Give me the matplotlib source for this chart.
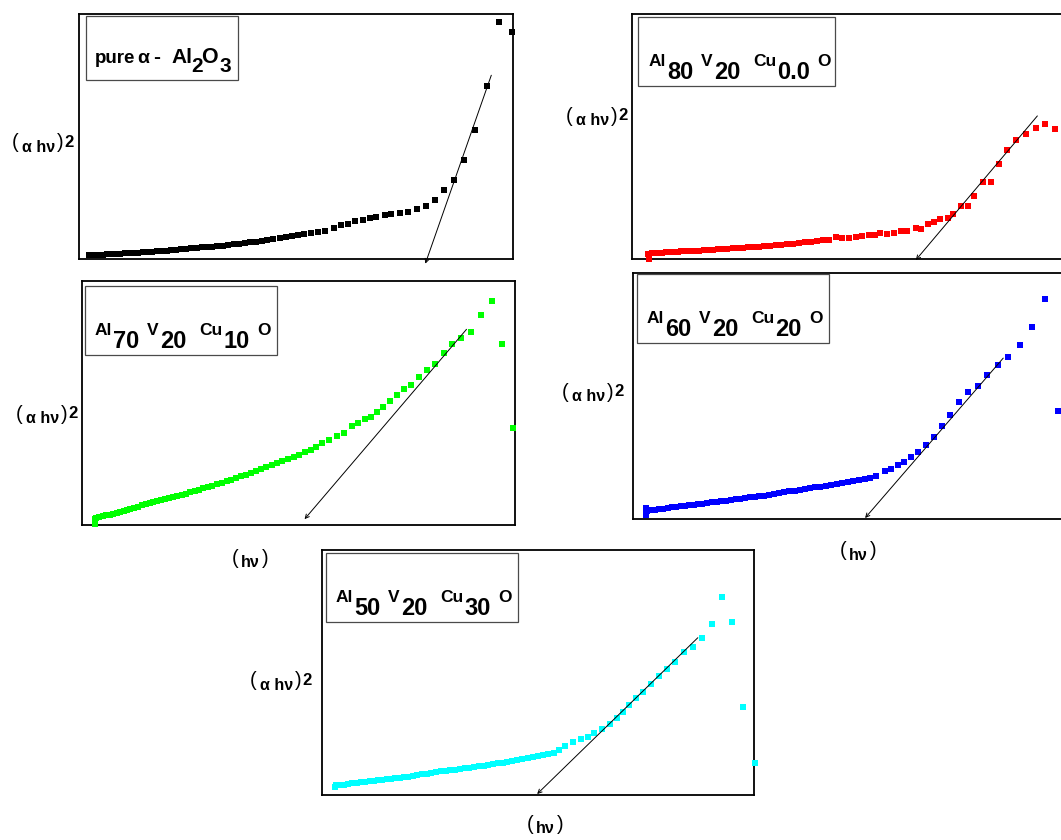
import matplotlib
matplotlib.use('Agg')
import matplotlib.pyplot as plt
from matplotlib.patches import Rectangle
from matplotlib.transforms import Bbox

# ---------------- data (normalised hv, normalised (alpha hv)^2; no ticks in original) -------------
bk_x = [2.3, 2.8, 3.5, 4.5, 5.5, 6.5, 7.5, 8.5, 9.5, 10.5, 11.5, 12.5, 13.6, 14.7, 15.8, 16.9, 18.0, 19.1,
        20.2, 21.3, 22.4, 23.5, 24.7, 25.9, 27.1, 28.3, 29.5, 30.7, 31.9, 33.1, 34.3, 35.6, 36.9, 38.2,
        39.5, 40.8, 42.1, 43.4, 44.8, 46.2, 47.6, 49.0, 50.4, 51.9, 53.4, 55.0, 56.6,
        58.8, 60.4, 61.9, 63.5, 65.4, 67.0, 68.5, 70.5, 72.0, 74.0, 75.9, 77.9, 80.0, 82.0, 84.1, 86.5,
        88.8, 91.3, 93.9, 96.7, 99.8]
bk_y = [1.5, 1.6, 1.6, 1.7, 1.8, 1.9, 2.0, 2.1, 2.2, 2.3, 2.4, 2.5, 2.6, 2.7, 2.9, 3.0, 3.1, 3.3,
        3.4, 3.6, 3.7, 3.9, 4.1, 4.3, 4.5, 4.7, 4.9, 5.1, 5.3, 5.5, 5.8, 6.0, 6.3, 6.5,
        6.8, 7.1, 7.4, 7.7, 8.0, 8.4, 8.8, 9.2, 9.7, 10.1, 10.6, 11.1, 11.6,
        12.7, 13.8, 14.4, 15.5, 16.1, 16.7, 17.2, 17.8, 18.2, 18.6, 19.2, 20.4, 21.8, 24.1, 28.3, 32.1,
        40.4, 52.8, 70.7, 96.8, 92.7]
bk_fit_x = [95.0, 79.8]
bk_fit_y = [75.0, -1.9]

rd_x = [3.8, 3.9, 4.6, 5.4, 6.2, 7.0, 7.8, 8.7, 9.6, 10.5, 11.4, 12.4, 13.4, 14.4, 15.4, 16.5, 17.6, 18.7,
        19.8, 20.9, 22.0, 23.2, 24.4, 25.6, 26.8, 28.0, 29.2, 30.5, 31.8, 33.1, 34.4, 35.7, 37.0, 38.4,
        39.8, 41.2, 42.6, 44.0, 45.5, 47.0, 48.5, 50.0, 51.5, 53.0, 54.6, 56.0,
        57.2, 58.7, 60.3, 61.9, 63.4, 65.4, 66.7, 68.1, 69.7, 71.0, 72.7, 74.0, 75.8, 77.5, 78.9, 80.8,
        82.7, 84.6, 86.5, 88.5, 90.7, 93.0, 95.1, 97.5]
rd_y = [2.0, -0.2, 2.3, 2.4, 2.5, 2.6, 2.7, 2.8, 2.9, 3.0, 3.1, 3.2, 3.3, 3.3, 3.4, 3.6, 3.7, 3.8,
        3.9, 4.0, 4.2, 4.3, 4.5, 4.6, 4.8, 4.9, 5.1, 5.2, 5.5, 5.6, 5.8, 6.0, 6.2, 6.5,
        6.9, 7.1, 7.4, 7.6, 7.9, 8.8, 8.5, 8.7, 9.1, 9.2, 9.8, 9.6,
        10.6, 10.2, 10.6, 11.3, 11.6, 12.7, 12.3, 14.3, 15.3, 16.5, 16.8, 18.4, 21.6, 21.6, 25.9, 31.4,
        31.4, 38.9, 44.3, 48.4, 51.2, 53.5, 55.0, 53.2]
rd_fit_x = [93.4, 65.4]
rd_fit_y = [58.4, -0.4]

gr_x = [3.0, 3.0, 3.1, 3.3, 4.0, 4.8, 5.6, 6.4, 7.2, 8.0, 8.8, 9.6, 10.4, 11.2, 12.0, 12.9, 13.8, 14.7,
        15.6, 16.5, 17.4, 18.3, 19.2, 20.1, 21.0, 22.0, 23.0, 24.0, 25.0, 26.0, 27.0, 28.0, 29.0, 30.1,
        31.2, 32.3, 33.4, 34.5, 35.6, 36.7, 37.8, 39.0, 40.2, 41.4, 42.6, 43.8, 45.0, 46.3, 47.6, 48.9,
        50.2, 51.5, 52.8, 54.1, 55.5, 57.0,
        58.9, 60.5, 62.4, 63.8, 65.4, 66.7, 68.1, 69.6, 71.2, 72.7, 74.4, 75.9, 77.9, 79.7, 81.5, 83.5,
        85.4, 87.6, 89.9, 92.2, 94.6, 97.0, 99.6]
gr_y = [0.6, 2.4, 1.5, 3.0, 3.2, 3.6, 4.0, 4.3, 4.7, 5.0, 5.4, 5.8, 6.2, 6.6, 7.0, 7.5, 8.0, 8.5,
        8.9, 9.4, 9.8, 10.2, 10.5, 10.9, 11.3, 11.8, 12.4, 12.9, 13.5, 14.0, 14.5, 15.0, 15.5, 16.1,
        16.7, 17.3, 17.9, 18.6, 19.2, 19.9, 20.6, 21.4, 22.2, 23.1, 23.9, 24.7, 25.4, 26.1, 27.0, 27.9,
        28.8, 29.8, 30.9, 32.1, 33.5, 34.9,
        36.3, 37.9, 40.7, 42.0, 43.4, 44.4, 46.3, 48.5, 50.9, 53.1, 55.6, 57.2, 60.7, 63.7, 66.1, 70.5,
        74.3, 76.6, 78.9, 86.0, 91.7, 74.0, 39.8]
gr_fit_x = [88.8, 51.4]
gr_fit_y = [80.2, 2.4]

bl_x = [3.0, 3.1, 3.2, 3.1, 4.0, 5.0, 6.0, 7.0, 8.0, 9.0, 10.0, 11.0, 12.0, 13.0, 14.0, 15.0, 16.0, 17.1,
        18.2, 19.3, 20.4, 21.5, 22.6, 23.7, 24.8, 25.9, 27.0, 28.1, 29.2, 30.3, 31.4, 32.5, 33.7, 34.9,
        36.1, 37.3, 38.5, 39.7, 40.9, 42.1, 43.3, 44.5, 45.7, 47.0, 48.3, 49.6, 50.9, 52.2, 53.5, 54.8, 56.2,
        58.2, 59.6, 61.2, 62.7, 64.2, 65.9, 67.6, 69.4, 71.3, 73.2, 75.2, 77.4, 79.6, 81.8, 84.2, 86.7,
        89.4, 92.2, 95.1, 98.1]
bl_y = [2.6, 1.8, 3.4, 4.4, 3.5, 3.7, 4.0, 4.2, 4.4, 4.7, 4.9, 5.1, 5.3, 5.6, 5.8, 6.0, 6.3, 6.5,
        6.8, 7.0, 7.3, 7.5, 7.8, 8.0, 8.3, 8.5, 8.8, 9.0, 9.3, 9.5, 9.8, 10.1, 10.5, 10.8,
        11.2, 11.5, 11.8, 12.2, 12.5, 12.9, 13.2, 13.6, 13.9, 14.3, 14.7, 15.1, 15.5, 15.9, 16.3, 16.7, 17.5,
        19.5, 20.5, 21.9, 23.1, 25.2, 27.3, 30.1, 33.3, 38.0, 42.3, 47.6, 51.7, 54.1, 58.4, 62.7, 65.9,
        70.6, 78.0, 89.3, 43.9]
bl_fit_x = [85.5, 53.6]
bl_fit_y = [65.4, 0.4]

cy_x = [3.0, 3.2, 4.0, 5.0, 6.0, 7.0, 8.0, 9.0, 10.0, 11.0, 12.0, 13.0, 14.0, 15.0, 16.0, 17.0, 18.0, 19.0,
        20.0, 21.0, 22.0, 23.1, 24.2, 25.3, 26.4, 27.5, 28.6, 29.7, 30.8, 31.9, 33.0, 34.1, 35.2, 36.3,
        37.4, 38.5, 39.6, 40.7, 41.8, 42.9, 44.0, 45.2, 46.4, 47.6, 48.8, 50.0, 51.2, 52.4, 53.6, 54.9, 56.3,
        58.1, 60.0, 61.5, 63.0, 64.9, 66.6, 68.2, 69.7, 71.1, 72.8, 74.4, 76.1, 78.0, 79.8, 81.7, 83.7,
        85.8, 88.0, 90.3, 92.6, 94.9, 97.5, 100.2]
cy_y = [3.2, 4.2, 4.0, 4.2, 4.5, 4.7, 4.9, 5.2, 5.4, 5.6, 5.9, 6.1, 6.3, 6.5, 6.7, 6.9, 7.1, 7.3,
        7.5, 7.8, 8.1, 8.4, 8.7, 9.0, 9.3, 9.6, 9.9, 10.1, 10.4, 10.6, 10.9, 11.1, 11.4, 11.7,
        12.0, 12.3, 12.6, 12.9, 13.2, 13.5, 13.9, 14.2, 14.6, 15.0, 15.4, 15.8, 16.2, 16.7, 17.3, 18.3, 19.8,
        21.5, 22.7, 23.8, 25.2, 27.1, 29.1, 31.6, 34.0, 36.7, 39.5, 42.2, 45.3, 48.6, 51.3, 54.3, 58.5,
        60.3, 63.9, 69.7, 81.0, 70.7, 35.8, 13.2]
cy_fit_x = [87.0, 49.8]
cy_fit_y = [64.2, 0.4]

# sample labels: (Al, V, Cu) subscripts
samples = [("80", "20", "0.0"), ("70", "20", "10"), ("60", "20", "20"), ("50", "20", "30")]

# ---------------- figure ----------------
FONT = ['Liberation Sans', 'DejaVu Sans']
W, H = 1061, 840
fig = plt.figure(figsize=(W / 100, H / 100), dpi=100)
fig.patch.set_facecolor('white')
renderer = fig.canvas.get_renderer()


def add_ax(l, t, r, b):
    ax = fig.add_axes([l / W, 1 - b / H, (r - l) / W, (b - t) / H])
    ax.set_xlim(0, 100)
    ax.set_ylim(0, 100)
    ax.set_xticks([])
    ax.set_yticks([])
    for s in ax.spines.values():
        s.set_linewidth(1.3)
        s.set_color('black')
    return ax


def put(s, x, y, size, weight, zorder=5):
    return fig.text(x / W, 1 - y / H, s, fontsize=size, fontweight=weight,
                    family=FONT, va='baseline', ha='left', zorder=zorder)


def rich(x, y, pieces, align='left', zorder=5):
    """pieces: (text, size, weight, dy_px_up, gap_px_before)"""
    arts = []
    cur = x
    for s, size, weight, dy, gap in pieces:
        cur += gap
        t = put(s, cur, y - dy, size, weight, zorder)
        cur += t.get_window_extent(renderer).width
        arts.append(t)
    if align == 'center':
        shift = (cur - x) / 2
        for t in arts:
            px, py = t.get_position()
            t.set_position((px - shift / W, py))
    return arts


def box(l, t, r, b):
    fig.add_artist(Rectangle((l / W, 1 - b / H), (r - l) / W, (b - t) / H, transform=fig.transFigure,
                             facecolor='white', edgecolor='#4a4a4a', lw=0.9, zorder=4))


def ylabel(cx, base, zorder=5):
    return rich(cx, base, [("(", 14.5, 'normal', 3.5, 0), ("α hν", 11.5, 'bold', 0, 3.5),
                           (")", 14.5, 'normal', 3.5, 1.5), ("2", 12, 'bold', 5, 0.8)],
                align='center', zorder=zorder)


def xlabel(cx, base, zorder=5):
    return rich(cx, base, [("(", 14.5, 'normal', 3.5, 0), ("hν", 11.5, 'bold', 0, 3),
                           (")", 14.5, 'normal', 3.5, 1.5)], align='center', zorder=zorder)


def sample_text(x, base, sub):
    a, v, c = sub
    rich(x, base, [("Al", 12.5, 'bold', 13, 0), (a, 17, 'bold', 0, 1),
                   ("V", 12.5, 'bold', 13, 7.5), (v, 17, 'bold', 0, 1),
                   ("Cu", 12.5, 'bold', 13, 13.5), (c, 17, 'bold', 0, 0.5),
                   ("O", 12.5, 'bold', 13, 7.5)])


def panel(rect, x, y, fx, fy, color, ms):
    ax = add_ax(*rect)
    ax.plot(x, y, 's', ms=ms, mew=0, color=color, clip_on=False, zorder=3)
    ax.annotate('', xy=(fx[1], fy[1]), xytext=(fx[0], fy[0]), annotation_clip=False,
                arrowprops=dict(arrowstyle='->', lw=0.7, color='black', mutation_scale=7,
                                shrinkA=0, shrinkB=0))
    return ax


panel((79, 14, 513, 259), bk_x, bk_y, bk_fit_x, bk_fit_y, 'black', 4.6)
panel((632, 14, 1066, 259), rd_x, rd_y, rd_fit_x, rd_fit_y, '#ff0000', 3.9)
panel((82, 281, 515, 525), gr_x, gr_y, gr_fit_x, gr_fit_y, '#00ff00', 4.5)
panel((633, 273, 1066, 519), bl_x, bl_y, bl_fit_x, bl_fit_y, '#0000ff', 4.3)
panel((322, 550, 754, 795), cy_x, cy_y, cy_fit_x, cy_fit_y, '#00ffff', 4.4)

# legend boxes
box(86, 16, 238, 80)
put("pure", 94.5, 63.3, 13.5, 'bold')
put("α", 137.5, 63.3, 14, 'bold')
put("-", 153, 63.3, 15, 'bold')
put("Al", 171, 63.3, 15, 'bold')
put("2", 191, 71.8, 15, 'bold')
put("O", 201.5, 63.3, 15.5, 'bold')
put("3", 220, 72.2, 15, 'bold')
box(638, 17, 835, 86)
sample_text(649, 79, samples[0])
box(85, 286, 277, 355)
sample_text(95, 348, samples[1])
box(637, 274, 829, 343)
sample_text(647, 336, samples[2])
box(326, 553, 518, 622)
sample_text(336, 615, samples[3])

# axis labels
ylabel(43, 152)
ylabel(597, 125)
ylabel(47, 423)
ylabel(593, 401)
ylabel(281, 690)
xlabel(250, 567)
xlabel(858, 560)
xlabel(545, 833)
# label partially hidden behind the green legend box: only the bottoms of its brackets show
for t in ylabel(186, 354, zorder=3):
    t.set_clip_box(Bbox.from_extents(0, H - 380, W, H - 355.5))

fig.savefig('out.png', dpi=100, facecolor='white')
